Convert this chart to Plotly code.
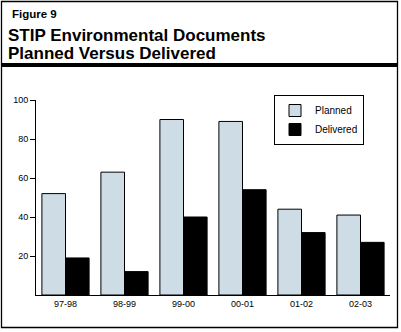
import plotly.graph_objects as go

categories = ["97-98", "98-99", "99-00", "00-01", "01-02", "02-03"]
planned = [52, 63, 90, 89, 44, 41]
delivered = [19, 12, 40, 54, 32, 27]
y_ticks = [20, 40, 60, 80, 100]

W, H = 401, 332
ML, MR, MT, MB = 36, 11, 100, 37
PW, PH = W - ML - MR, H - MT - MB


def px(x):
    return (x - ML) / PW


def py(y):
    return (H - MB - y) / PH


FONT = "Liberation Sans, Arial, Helvetica, sans-serif"

fig = go.Figure()
fig.add_trace(go.Bar(x=categories, y=planned, name="Planned",
                     marker=dict(color="#cddce5", line=dict(color="black", width=1))))
fig.add_trace(go.Bar(x=categories, y=delivered, name="Delivered",
                     marker=dict(color="black", line=dict(color="black", width=1))))

shapes = [
    dict(type="rect", xref="paper", yref="paper",
         x0=px(1.5), x1=px(397.5), y0=py(1.5), y1=py(327.5),
         line=dict(color="black", width=1.3), fillcolor="rgba(0,0,0,0)", layer="below"),
    dict(type="line", xref="paper", yref="paper",
         x0=px(1.5), x1=px(397.5), y0=py(65), y1=py(65),
         line=dict(color="black", width=4)),
]

annotations = [
    dict(text="<b>Figure 9</b>", xref="paper", yref="paper", x=px(10), y=py(6),
         xanchor="left", yanchor="top", showarrow=False,
         font=dict(family=FONT, size=11.5, color="black")),
    dict(text="<b>STIP Environmental Documents</b>", xref="paper", yref="paper",
         x=px(6), y=py(23.5), xanchor="left", yanchor="top", showarrow=False,
         font=dict(family=FONT, size=17, color="black")),
    dict(text="<b>Planned Versus Delivered</b>", xref="paper", yref="paper",
         x=px(6), y=py(41.5), xanchor="left", yanchor="top", showarrow=False,
         font=dict(family=FONT, size=17, color="black")),
]

fig.update_layout(
    width=W, height=H,
    margin=dict(l=ML, r=MR, t=MT, b=MB),
    paper_bgcolor="white", plot_bgcolor="white",
    barmode="group", bargap=0.2, bargroupgap=0,
    font=dict(family=FONT, size=9, color="black"),
    showlegend=True,
    legend=dict(x=px(364), y=py(95), xanchor="right", yanchor="top",
                bordercolor="black", borderwidth=1, bgcolor="white",
                font=dict(family=FONT, size=10, color="black"),
                itemwidth=30, tracegroupgap=0),
    shapes=shapes,
    annotations=annotations,
    xaxis=dict(type="category", showline=True, linecolor="black", linewidth=1,
               ticks="", showgrid=False, zeroline=False, tickfont=dict(size=9)),
    yaxis=dict(range=[0, 100], tickvals=y_ticks, showline=True, linecolor="black",
               linewidth=1, ticks="outside", ticklen=5, tickcolor="black",
               showgrid=False, zeroline=False, tickfont=dict(size=9)),
)

fig.write_html("out.html")
